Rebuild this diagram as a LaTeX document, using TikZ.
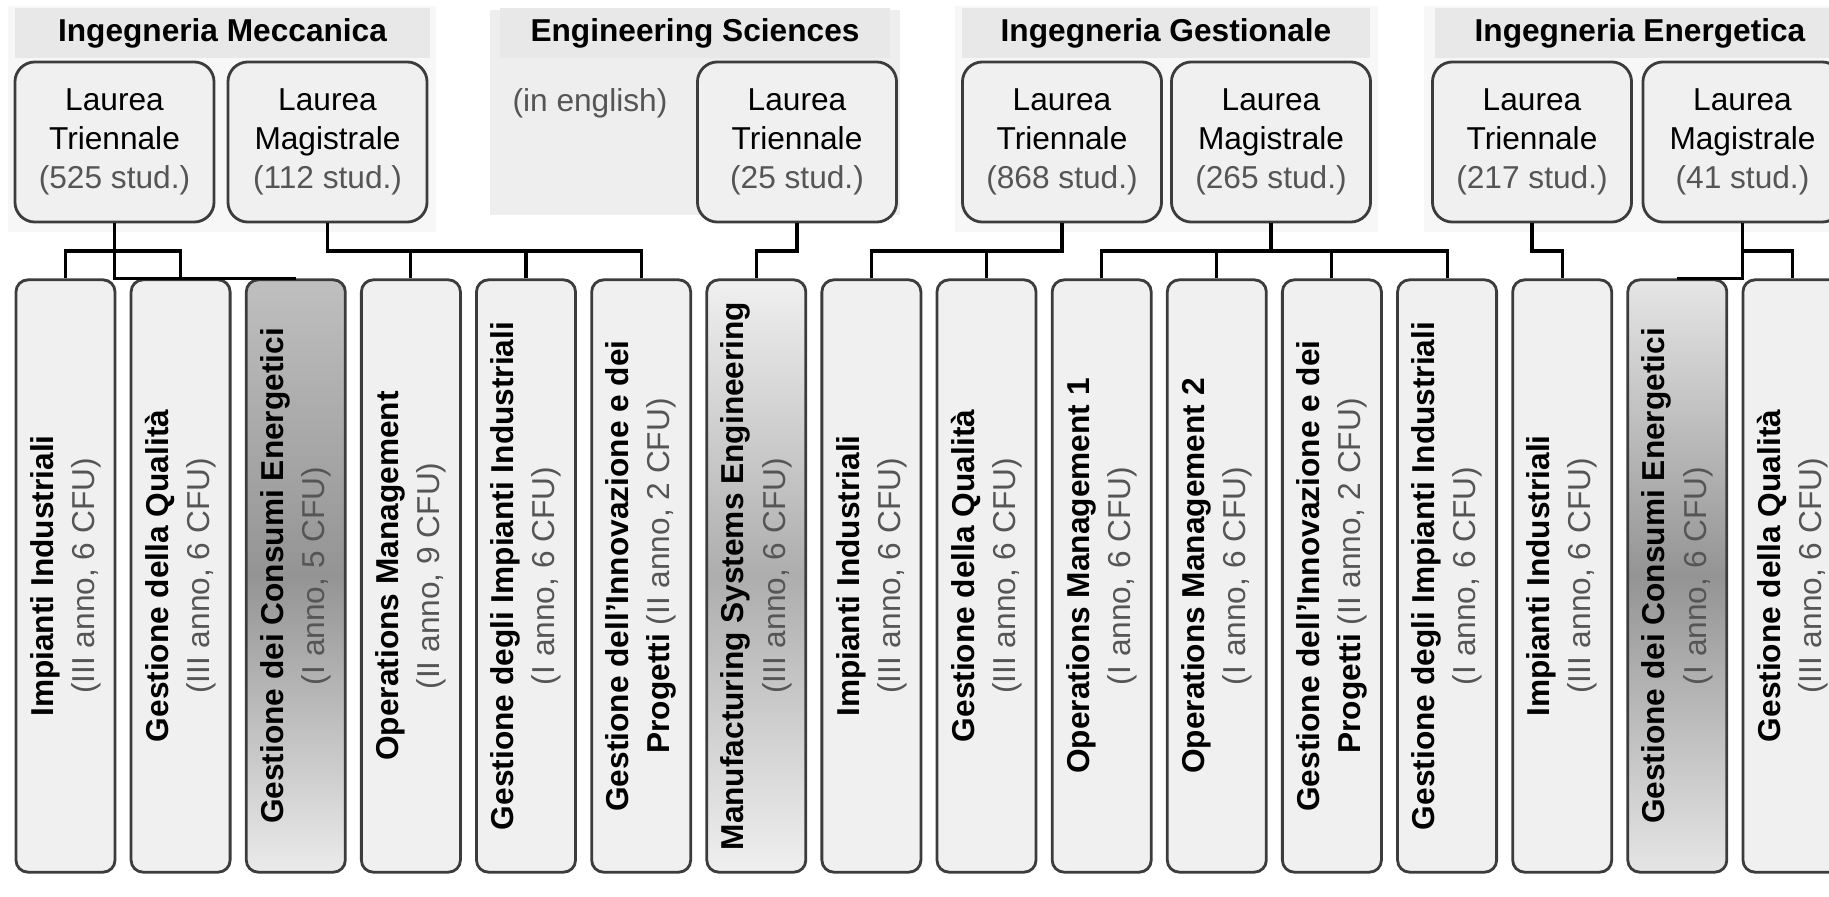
\documentclass[tikz,border=0pt]{standalone}
\usepackage{fontspec}
\setmainfont{Liberation Sans}
\usepackage{xcolor}
\definecolor{boxline}{RGB}{60,60,60}
\definecolor{boxfill}{RGB}{240,240,240}
\definecolor{headfill}{RGB}{232,232,232}
\definecolor{groupfill}{RGB}{247,247,247}
\definecolor{esfill}{RGB}{238,238,238}
\definecolor{infogray}{RGB}{85,85,85}
\usetikzlibrary{calc}
\newcommand{\crsinfo}[1]{{\mdseries\color{infogray}#1}}

\begin{document}
\begin{tikzpicture}[x=0.01cm, y=-0.01cm,
  link/.style={draw=black, line width=0.9pt},
  head/.style={fill=headfill, minimum height=0.5cm, inner sep=0pt, font=\fontsize{9}{11}\selectfont\bfseries},
  degree/.style={draw=boxline, fill=boxfill, line width=0.8pt, rounded corners=0.2cm, minimum width=1.99cm, minimum height=1.6cm, inner sep=0pt, align=center, font=\fontsize{9}{11}\selectfont},
  coursebox/.style={draw=boxline, line width=0.8pt, rounded corners=0.12cm, minimum width=0.99cm, minimum height=5.92cm, inner sep=0pt},
  course/.style={coursebox, fill=boxfill},
  ctext/.style={rotate=90, align=center, inner sep=0pt, font=\fontsize{9}{11.7}\selectfont\bfseries}]
  \useasboundingbox (0,0) rectangle (1829,897);
  \clip (0,0) rectangle (1829,897);

  % group backgrounds
  \fill[groupfill] (8,6) rectangle (436,232);
  \fill[esfill] (490,10) rectangle (900,215);
  \fill[groupfill] (955,6) rectangle (1378,232);
  \fill[groupfill] (1424,6) rectangle (1850,232);

  \node[head, minimum width=4.15cm] (hdim) at (222.5,33) {Ingegneria Meccanica};
  \node[head, minimum width=3.9cm] (hdes) at (695,33) {Engineering Sciences};
  \node[head, minimum width=4.07cm] (hdig) at (1166,33) {Ingegneria Gestionale};
  \node[head, minimum width=4.1cm] (hdie) at (1640,33) {Ingegneria Energetica};
  \node[font=\fontsize{9}{11}\selectfont, text=infogray, inner sep=0pt] (engl) at (590,103) {(in english)};

  % degree courses
  \node[degree] (imt) at (114.5,142) {Laurea\\Triennale\\\crsinfo{(525 stud.)}};
  \node[degree] (imm) at (327.5,142) {Laurea\\Magistrale\\\crsinfo{(112 stud.)}};
  \node[degree] (est) at (797,142) {Laurea\\Triennale\\\crsinfo{(25 stud.)}};
  \node[degree] (igt) at (1062,142) {Laurea\\Triennale\\\crsinfo{(868 stud.)}};
  \node[degree] (igm) at (1271,142) {Laurea\\Magistrale\\\crsinfo{(265 stud.)}};
  \node[degree] (iet) at (1532,142) {Laurea\\Triennale\\\crsinfo{(217 stud.)}};
  \node[degree] (iem) at (1742.5,142) {Laurea\\Magistrale\\\crsinfo{(41 stud.)}};

  % single courses
  \node[course] (c1) at (65.5,576) {};
  \node[ctext] (t1) at (c1) {Impianti Industriali\\\crsinfo{(III anno, 6 CFU)}};
  \node[course] (c2) at (180.6,576) {};
  \node[ctext] (t2) at (c2) {Gestione della Qualità\\\crsinfo{(III anno, 6 CFU)}};
  \node[coursebox, top color=black!25, bottom color=black!8, middle color=black!42] (c3) at (295.8,576) {};
  \node[ctext] (t3) at (c3) {Gestione dei Consumi Energetici\\\crsinfo{(I anno, 5 CFU)}};
  \node[course] (c4) at (410.9,576) {};
  \node[ctext] (t4) at (c4) {Operations Management\\\crsinfo{(II anno, 9 CFU)}};
  \node[course] (c5) at (526,576) {};
  \node[ctext] (t5) at (c5) {Gestione degli Impianti Industriali\\\crsinfo{(I anno, 6 CFU)}};
  \node[course] (c6) at (641.2,576) {};
  \node[ctext] (t6) at (c6) {Gestione dell'Innovazione e dei\\Progetti \crsinfo{(II anno, 2 CFU)}};
  \node[coursebox, top color=black!6, bottom color=black!6, middle color=black!32] (c7) at (756.3,576) {};
  \node[ctext] (t7) at (c7) {Manufacturing Systems Engineering\\\crsinfo{(III anno, 6 CFU)}};
  \node[course] (c8) at (871.4,576) {};
  \node[ctext] (t8) at (c8) {Impianti Industriali\\\crsinfo{(III anno, 6 CFU)}};
  \node[course] (c9) at (986.5,576) {};
  \node[ctext] (t9) at (c9) {Gestione della Qualità\\\crsinfo{(III anno, 6 CFU)}};
  \node[course] (c10) at (1101.7,576) {};
  \node[ctext] (t10) at (c10) {Operations Management 1\\\crsinfo{(I anno, 6 CFU)}};
  \node[course] (c11) at (1216.8,576) {};
  \node[ctext] (t11) at (c11) {Operations Management 2\\\crsinfo{(I anno, 6 CFU)}};
  \node[course] (c12) at (1331.9,576) {};
  \node[ctext] (t12) at (c12) {Gestione dell'Innovazione e dei\\Progetti \crsinfo{(II anno, 2 CFU)}};
  \node[course] (c13) at (1447.1,576) {};
  \node[ctext] (t13) at (c13) {Gestione degli Impianti Industriali\\\crsinfo{(I anno, 6 CFU)}};
  \node[course] (c14) at (1562.2,576) {};
  \node[ctext] (t14) at (c14) {Impianti Industriali\\\crsinfo{(III anno, 6 CFU)}};
  \node[coursebox, top color=black!10, bottom color=black!10, middle color=black!42] (c15) at (1677.3,576) {};
  \node[ctext] (t15) at (c15) {Gestione dei Consumi Energetici\\\crsinfo{(I anno, 6 CFU)}};
  \node[course] (c16) at (1792.5,576) {};
  \node[ctext] (t16) at (c16) {Gestione della Qualità\\\crsinfo{(III anno, 6 CFU)}};

  % connectors
  \coordinate (bar) at (0,251);
  \draw[link] (imt) -- (imt |- c3.north) -- (c3.north);
  \draw[link] (c1.north) |- (imt |- bar) -| (c2.north);
  \draw[link] (imm) -- (imm |- bar) -| (c6.north);
  \draw[link] (c4.north) -- (c4.north |- bar);
  \draw[link] (c5.north) -- (c5.north |- bar);
  \draw[link] (est) -- (est |- bar) -| (c7.north);
  \draw[link] (igt) -- (igt |- bar) -| (c8.north);
  \draw[link] (c9.north) -- (c9.north |- bar);
  \draw[link] (c10.north) |- (igm |- bar) -| (c13.north);
  \draw[link] (igm) -- (igm |- bar);
  \draw[link] (c11.north) -- (c11.north |- bar);
  \draw[link] (c12.north) -- (c12.north |- bar);
  \draw[link] (iet) -- (iet |- bar) -| (c14.north);
  \draw[link] (iem) -- (iem |- c15.north) -- (c15.north);
  \draw[link] (iem |- bar) -| (c16.north);
\end{tikzpicture}
\end{document}
